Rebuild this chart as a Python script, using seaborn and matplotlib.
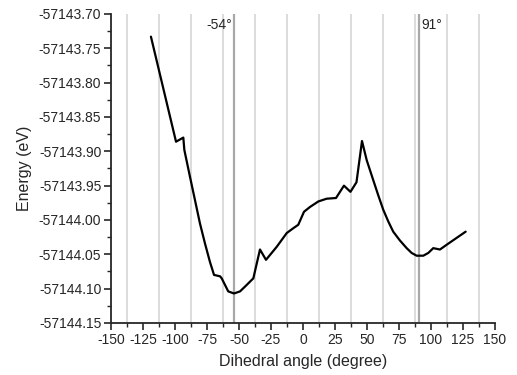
#!/usr/bin/env python3

import pandas as pd
import matplotlib
matplotlib.use('Agg')
import matplotlib.pyplot as plt
import matplotlib.ticker as mticker
import seaborn as sns


# dihedral scan
angle = [-118.8, -99.2, -93.5, -92.7, -88.3, -84.4, -80.5, -76.6, -72.7,
         -69.5, -64.8, -63.5, -58.4, -53.9, -49.2, -45.3, -38.8, -33.6,
         -28.9, -20.5, -12.7, -7.6, -3.7, 0.8, 5.5, 12.0, 18.5, 25.8, 32.0,
         37.1, 41.8, 46.1, 49.8, 54.9, 58.8, 62.7, 66.6, 70.5, 75.8, 81.0,
         84.9, 88.8, 94.0, 97.9, 101.8, 107.0, 112.3, 127.1]
energy = [-57143.733, -57143.886, -57143.880, -57143.898, -57143.937,
          -57143.971, -57144.005, -57144.034, -57144.061, -57144.080,
          -57144.082, -57144.085, -57144.104, -57144.107, -57144.104,
          -57144.097, -57144.085, -57144.043, -57144.058, -57144.039,
          -57144.019, -57144.012, -57144.007, -57143.988, -57143.981,
          -57143.973, -57143.969, -57143.968, -57143.950, -57143.959,
          -57143.945, -57143.885, -57143.913, -57143.942, -57143.964,
          -57143.985, -57144.002, -57144.017, -57144.030, -57144.041,
          -57144.048, -57144.052, -57144.052, -57144.048, -57144.041,
          -57144.043, -57144.036, -57144.017]
grid_angles = [-137.5, -112.5, -87.5, -62.5, -37.5, -12.5, 12.5, 37.5,
               62.5, 87.5, 112.5, 137.5]
minima = [-54, 91]
minima_labels = ['-54°', '91°']

sns.set_style('ticks')
plt.rcParams['font.family'] = ['Liberation Sans', 'DejaVu Sans']
plt.rcParams['axes.unicode_minus'] = False

df = pd.DataFrame({'angle': angle, 'energy': energy})

fig = plt.figure(figsize=(5.17, 3.75), dpi=100)
ax = fig.add_axes([0.2147, 0.1387, 0.7427, 0.824])

for g in grid_angles:
    ax.axvline(g, color='#dcdcdc', lw=1.4, zorder=0)
for m in minima:
    ax.axvline(m, color='#a8a8a8', lw=1.6, zorder=0)
ax.text(minima[0] - 1.5, -57143.716, minima_labels[0], ha='right', va='center', fontsize=10)
ax.text(minima[1] + 1.5, -57143.716, minima_labels[1], ha='left', va='center', fontsize=10)

sns.lineplot(data=df, x='angle', y='energy', color='black', lw=1.6,
             ax=ax, zorder=3)

ax.set_xlim(-150, 150)
ax.set_ylim(-57144.15, -57143.70)
ax.xaxis.set_major_locator(mticker.MultipleLocator(25))
ax.xaxis.set_minor_locator(mticker.MultipleLocator(12.5))
ax.yaxis.set_major_locator(mticker.MultipleLocator(0.05))
ax.yaxis.set_minor_locator(mticker.MultipleLocator(0.025))
ax.yaxis.set_major_formatter(mticker.FormatStrFormatter('%.2f'))
ax.xaxis.set_major_formatter(mticker.FormatStrFormatter('%d'))
ax.tick_params(which='major', length=5, width=1.2, labelsize=10, pad=2)
ax.tick_params(which='minor', length=3, width=1.0)
for s in ['top', 'right']:
    ax.spines[s].set_visible(False)
for s in ['left', 'bottom']:
    ax.spines[s].set_linewidth(1.3)
ax.set_xlabel('Dihedral angle (degree)', fontsize=11.5, labelpad=5)
ax.set_ylabel('Energy (eV)', fontsize=11.5, labelpad=5)

plt.savefig('out.png', dpi=100)
